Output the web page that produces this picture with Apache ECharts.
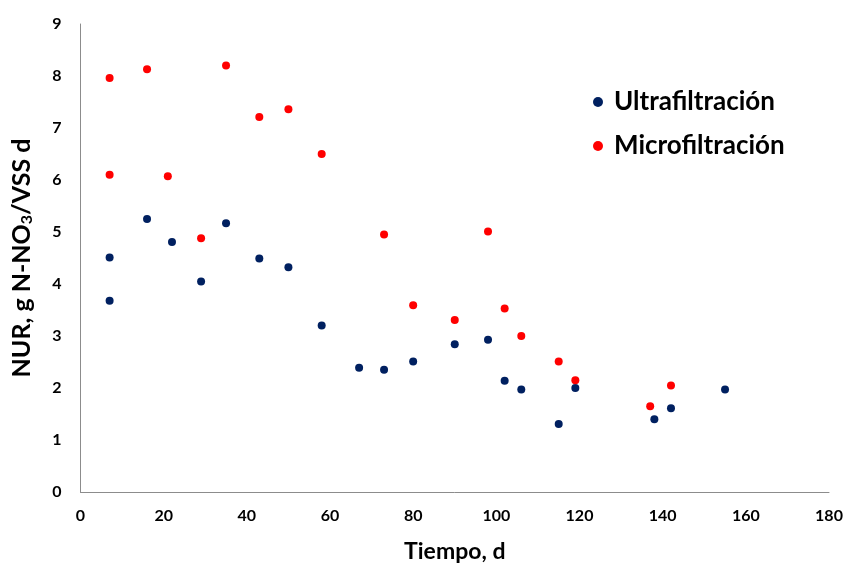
<!DOCTYPE html>
<html>
<head>
<meta charset="utf-8">
<script src="https://cdn.jsdelivr.net/npm/echarts@6/dist/echarts.min.js"></script>
<style>
  html, body { margin: 0; padding: 0; background: #fff; }
  #chart { width: 846px; height: 568px; }
</style>
</head>
<body>
<div id="chart"></div>
<script>
// Days of operation and nitrate uptake rate for each membrane type
const ultraDays = [7, 7, 16, 22, 29, 35, 43, 50, 58, 67, 73, 80, 90, 98, 102, 106, 115, 119, 138, 142, 155];
const ultraNUR  = [4.51, 3.68, 5.25, 4.81, 4.05, 5.17, 4.49, 4.32, 3.2, 2.39, 2.35, 2.51, 2.84, 2.93, 2.14, 1.97, 1.31, 2.0, 1.4, 1.61, 1.97];

const microDays = [7, 7, 16, 21, 29, 35, 43, 50, 58, 73, 80, 90, 98, 102, 106, 115, 119, 137, 142];
const microNUR  = [7.96, 6.1, 8.13, 6.07, 4.88, 8.2, 7.21, 7.36, 6.5, 4.95, 3.59, 3.31, 5.01, 3.53, 3.0, 2.51, 2.15, 1.65, 2.05];

const seriesNames = ['Ultrafiltración', 'Microfiltración'];
const xTicks = { min: 0, max: 180, interval: 20 };
const yTicks = { min: 0, max: 9, interval: 1 };

const FONT = 'Lato';
const pair = (xs, ys) => xs.map((x, i) => [x, ys[i]]);

const chart = echarts.init(document.getElementById('chart'));
chart.setOption({
  animation: false,
  textStyle: { fontFamily: FONT },
  grid: { left: 75.5, right: 17, top: 24, bottom: 71 },
  legend: {
    orient: 'vertical',
    left: 588,
    top: 84,
    itemGap: 18,
    itemWidth: 10,
    itemHeight: 10,
    data: seriesNames.map(n => ({ name: n, icon: 'circle' })),
    textStyle: { fontFamily: FONT, fontWeight: 'bold', fontSize: 26, color: '#000', padding: [0, 0, 0, 6] }
  },
  xAxis: {
    type: 'value',
    min: xTicks.min, max: xTicks.max, interval: xTicks.interval,
    name: 'Tiempo, d',
    nameLocation: 'middle',
    nameGap: 48,
    nameTextStyle: { fontFamily: FONT, fontWeight: 'bold', fontSize: 23, color: '#000' },
    axisLine: { show: true, lineStyle: { color: '#8c8c8c', width: 1 } },
    axisTick: { show: false },
    splitLine: { show: false },
    axisLabel: { color: '#000', fontWeight: 'bold', fontSize: 16, margin: 16 }
  },
  yAxis: {
    type: 'value',
    min: yTicks.min, max: yTicks.max, interval: yTicks.interval,
    name: '{a|NUR, g N-NO}{s|3}{a|/VSS d}',
    nameLocation: 'middle',
    nameGap: 44,
    nameRotate: 90,
    nameTextStyle: {
      rich: {
        a: { fontFamily: FONT, fontWeight: 'bold', fontSize: 25, color: '#000', lineHeight: 30 },
        s: { fontFamily: FONT, fontWeight: 'bold', fontSize: 16, color: '#000', lineHeight: 30, padding: [11, 0, 0, 0] }
      }
    },
    axisLine: { show: true, lineStyle: { color: '#8c8c8c', width: 1 } },
    axisTick: { show: false },
    splitLine: { show: false },
    axisLabel: { color: '#000', fontWeight: 'bold', fontSize: 16, margin: 19 }
  },
  series: [
    {
      name: seriesNames[0],
      type: 'scatter',
      symbol: 'circle',
      symbolSize: 8,
      itemStyle: { color: '#002060', opacity: 1 },
      data: pair(ultraDays, ultraNUR)
    },
    {
      name: seriesNames[1],
      type: 'scatter',
      symbol: 'circle',
      symbolSize: 8,
      itemStyle: { color: '#ff0000', opacity: 1 },
      data: pair(microDays, microNUR)
    }
  ]
});
</script>
</body>
</html>
